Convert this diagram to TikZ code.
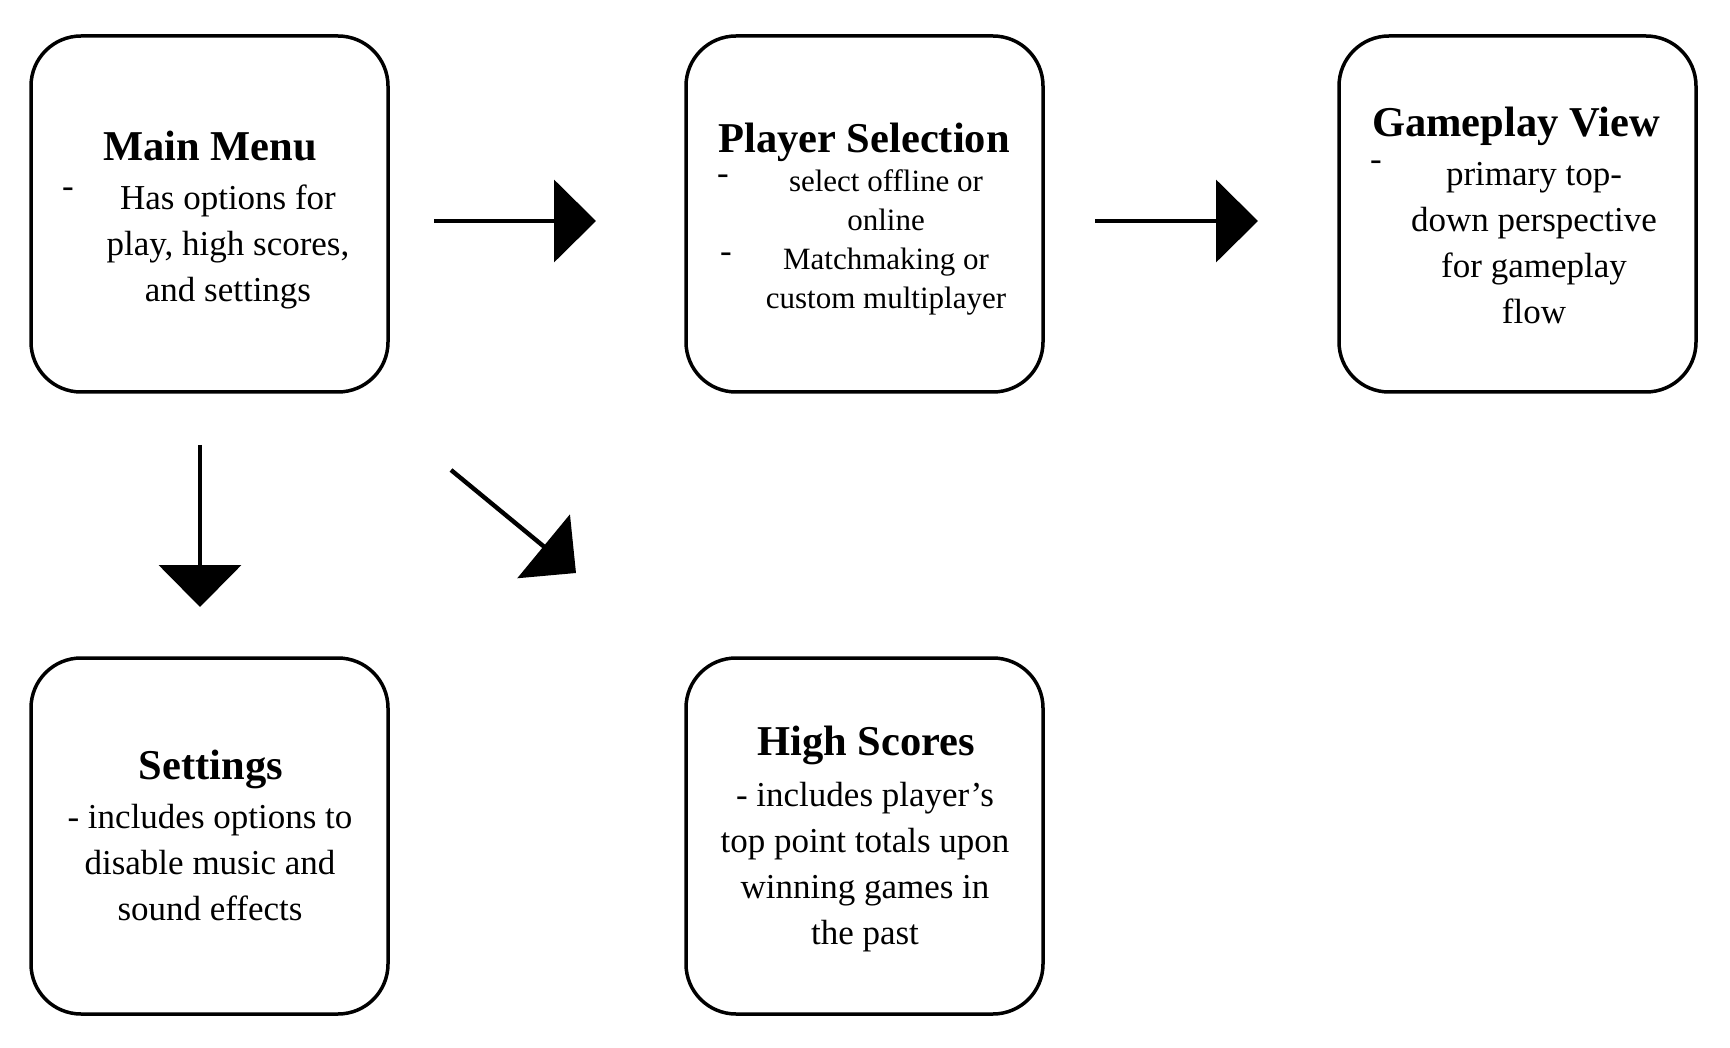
\documentclass[tikz,border=0pt]{standalone}
\usepackage{fontspec}
\setmainfont{Liberation Serif}
\usetikzlibrary{arrows.meta}
\tikzset{
  box/.style={draw=black, line width=3.5pt, rounded corners=50pt, minimum width=357pt, minimum height=356pt, inner sep=0pt},
  ttl/.style={inner sep=0pt, font=\fontsize{42.5}{50}\selectfont\bfseries},
  body/.style={inner sep=0pt, align=center, font=\fontsize{35}{46}\selectfont},
  smallbody/.style={inner sep=0pt, align=center, font=\fontsize{31}{39}\selectfont},
  dsh/.style={inner sep=0pt, font=\fontsize{35}{46}\selectfont},
  arr/.style={line width=4.4pt, -{Triangle[length=42pt,width=82pt]}}
}
\begin{document}
\begin{tikzpicture}[x=1pt,y=-1pt]
\useasboundingbox (0,0) rectangle (1730,1048);
% boxes
\node[box] (mm) at (209.5,214) {};
\node[box] (ps) at (864.5,214) {};
\node[box] (gv) at (1517.5,214) {};
\node[box] (st) at (209.5,836) {};
\node[box] (hs) at (864.5,836) {};
% Main Menu
\node[ttl] (mmt) at (210,146) {Main Menu};
\node[dsh] (mmd) at (68,193) {-};
\node[body] (mmb) at (228,246.5) {Has options for\\play, high scores,\\and settings};
% Player Selection
\node[ttl] (pst) at (864,142) {Player Selection};
\node[dsh] (psd1) at (723,180) {-};
\node[dsh] (psd2) at (726,258) {-};
\node[smallbody] (psb) at (886,242) {select offline or\\online\\Matchmaking or\\custom multiplayer};
% Gameplay View
\node[ttl] (gvt) at (1516,126.5) {Gameplay View};
\node[dsh] (gvd) at (1376,166) {-};
\node[body] (gvb) at (1534,243) {primary top-\\down perspective\\for gameplay\\flow};
% Settings
\node[ttl] (stt) at (211,769.5) {Settings};
\node[body] (stb) at (210,863) {- includes options to\\disable music and\\sound effects};
% High Scores
\node[ttl] (hst) at (866,745) {High Scores};
\node[body] (hsb) at (865,867) {- includes player’s\\top point totals upon\\winning games in\\the past};
% arrow ends
\coordinate (a1s) at (434,221);
\coordinate (a1e) at (596,221);
\coordinate (a2s) at (1095,221);
\coordinate (a2e) at (1258,221);
\coordinate (a3s) at (200,445);
\coordinate (a3e) at (200,607);
\coordinate (a4s) at (451,470);
\coordinate (a4e) at (576,573);
\draw[arr] (a1s) -- (a1e);
\draw[arr] (a2s) -- (a2e);
\draw[arr] (a3s) -- (a3e);
\draw[arr] (a4s) -- (a4e);
\end{tikzpicture}
\end{document}
